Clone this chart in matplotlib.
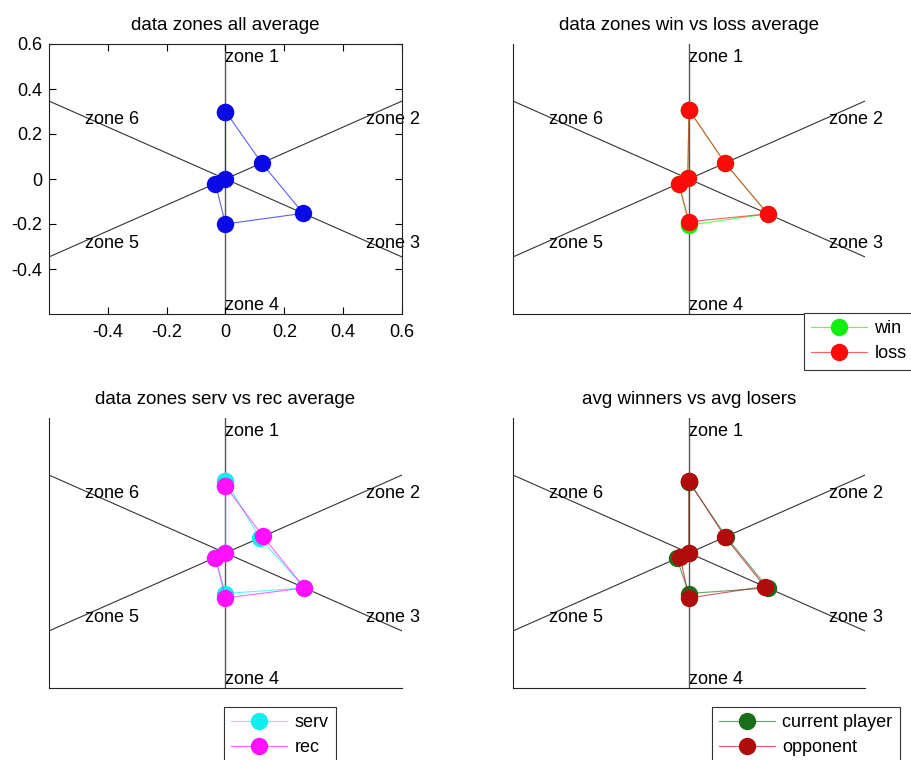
import numpy as np
import matplotlib
matplotlib.use("Agg")
import matplotlib.pyplot as plt
from matplotlib.colors import to_rgba

# zone layout (degrees, counter-clockwise from +x)
zones = ["zone 1", "zone 2", "zone 3", "zone 4", "zone 5", "zone 6"]
zone_angles = [90, 30, -30, -90, -150, 150]

# average radial value per zone
all_avg = [0.300, 0.142, 0.305, 0.200, 0.040, 0.000]
win_avg = [0.307, 0.142, 0.310, 0.205, 0.040, 0.005]
loss_avg = [0.307, 0.142, 0.310, 0.190, 0.040, 0.005]
serv_avg = [0.321, 0.135, 0.310, 0.180, 0.040, 0.000]
rec_avg = [0.298, 0.147, 0.310, 0.200, 0.040, 0.000]
current_avg = [0.315, 0.146, 0.310, 0.180, 0.048, 0.000]
opponent_avg = [0.320, 0.142, 0.298, 0.200, 0.035, 0.000]

LIM = 0.6
LABEL_R = 0.55

plt.rcParams["font.family"] = "Liberation Sans"
plt.rcParams["font.size"] = 13

fig = plt.figure(figsize=(9.12, 7.6), dpi=100)


def to_xy(values):
    # close the polygon back to zone 1
    r = np.array(list(values) + [values[0]])
    a = np.deg2rad(zone_angles + [zone_angles[0]])
    return r * np.cos(a), r * np.sin(a)


def draw_zones(ax):
    ax.plot([0, 0], [-LIM, LIM], color="#555555", lw=1.0, zorder=1)
    t = np.tan(np.deg2rad(30)) * LIM
    ax.plot([-LIM, LIM], [-t, t], color="#333333", lw=0.8, zorder=1)
    ax.plot([-LIM, LIM], [t, -t], color="#333333", lw=0.8, zorder=1)
    for name, ang in zip(zones, zone_angles):
        a = np.deg2rad(ang)
        ax.text(LABEL_R * np.cos(a), LABEL_R * np.sin(a) - 0.01, name,
                ha="left", va="center", fontsize=13, zorder=2)
    ax.set_xlim(-LIM, LIM)
    ax.set_ylim(-LIM, LIM)


def draw_series(ax, values, color, label=None):
    x, y = to_xy(values)
    ax.plot(x, y, color=to_rgba(color, 0.65), lw=0.8, marker="o", markersize=11.5,
            markerfacecolor=color, markeredgecolor=color, label=label, zorder=3)


def bare(ax):
    ax.spines["top"].set_visible(False)
    ax.spines["right"].set_visible(False)
    ax.set_xticks([]); ax.set_yticks([])


def add_legend(ax, x_px, y_px):
    leg = ax.legend(loc="upper left", bbox_to_anchor=(x_px / 912, 1 - y_px / 760),
                    bbox_transform=fig.transFigure, borderaxespad=0,
                    fancybox=False, framealpha=1, edgecolor="#333333",
                    handlelength=3.1, handletextpad=0.4, borderpad=0.4,
                    labelspacing=0.45, fontsize=13)
    leg.get_frame().set_linewidth(0.8)


ax1 = fig.add_axes([49 / 912, 446 / 760, 353 / 912, 270 / 760])
ax2 = fig.add_axes([513 / 912, 446 / 760, 352 / 912, 270 / 760])
ax3 = fig.add_axes([49 / 912, 72 / 760, 353 / 912, 270 / 760])
ax4 = fig.add_axes([513 / 912, 72 / 760, 352 / 912, 270 / 760])

# all average
draw_zones(ax1)
draw_series(ax1, all_avg, "#0a0ae6")
ax1.set_xticks([-0.4, -0.2, 0, 0.2, 0.4, 0.6])
ax1.set_xticklabels(["-0.4", "-0.2", "0", "0.2", "0.4", "0.6"])
ax1.set_yticks([-0.4, -0.2, 0, 0.2, 0.4, 0.6])
ax1.set_yticklabels(["-0.4", "-0.2", "0", "0.2", "0.4", "0.6"])
ax1.tick_params(direction="in", length=5, top=True, right=True, labelsize=13)
ax1.tick_params(axis="x", pad=7)
ax1.tick_params(axis="y", pad=5)
ax1.set_title("data zones all average", fontsize=13.5, pad=10)

# win vs loss
draw_zones(ax2)
draw_series(ax2, win_avg, "#11ee11", "win")
draw_series(ax2, loss_avg, "#ff0a0a", "loss")
bare(ax2)
ax2.set_title("data zones win vs loss average", fontsize=13.5, pad=10)
add_legend(ax2, 804, 313)

# serv vs rec
draw_zones(ax3)
draw_series(ax3, serv_avg, "#11eeee", "serv")
draw_series(ax3, rec_avg, "#ff11ff", "rec")
bare(ax3)
ax3.set_title("data zones serv vs rec average", fontsize=13.5, pad=10)
add_legend(ax3, 224, 707)

# winners vs losers
draw_zones(ax4)
draw_series(ax4, current_avg, "#1a6e1a", "current player")
draw_series(ax4, opponent_avg, "#b00c0c", "opponent")
bare(ax4)
ax4.set_title("avg winners vs avg losers", fontsize=13.5, pad=10)
add_legend(ax4, 712, 707)

for ax in (ax1, ax2, ax3, ax4):
    for s in ax.spines.values():
        s.set_linewidth(0.8)
        s.set_color("#222222")

plt.savefig("out.png", dpi=100)
